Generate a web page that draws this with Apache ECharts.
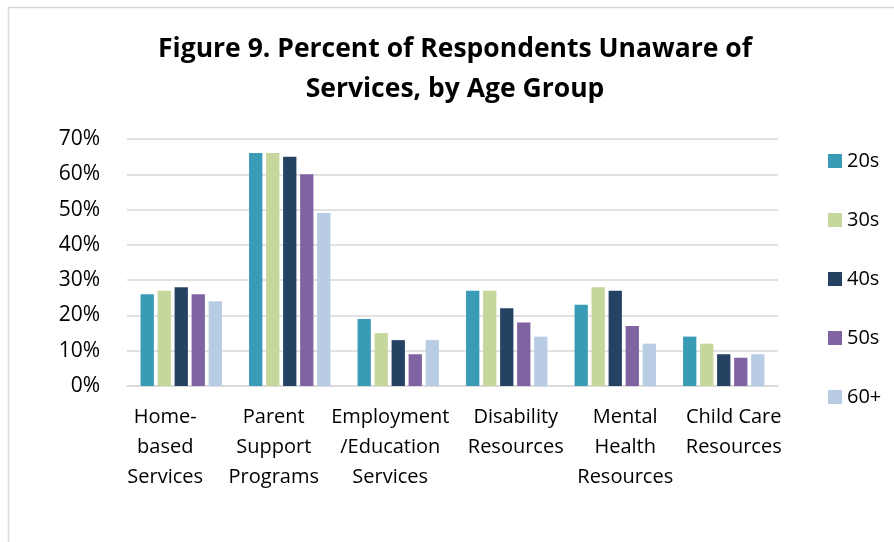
<!DOCTYPE html>
<html>
<head>
<meta charset="utf-8">
<script src="https://cdn.jsdelivr.net/npm/echarts@6/dist/echarts.min.js"></script>
<style>
  html, body { margin: 0; padding: 0; background: #ffffff; }
  #chart { width: 894px; height: 542px; }
</style>
</head>
<body>
<div id="chart"></div>
<script>
// Service categories (wrapped as in the printed report)
const categories = [
  'Home-\nbased\nServices',
  'Parent\nSupport\nPrograms',
  'Employment\n/Education\nServices',
  'Disability\nResources',
  'Mental\nHealth\nResources',
  'Child Care\nResources'
];

// Percent of respondents unaware of each service, per age group
const ageGroups = ['20s', '30s', '40s', '50s', '60+'];
const values20s = [26, 66, 19, 27, 23, 14];
const values30s = [27, 66, 15, 27, 28, 12];
const values40s = [28, 65, 13, 22, 27, 9];
const values50s = [26, 60, 9, 18, 17, 8];
const values60p = [24, 49, 13, 14, 12, 9];

const yTicks = { min: 0, max: 70, interval: 10 };

const seriesValues = [values20s, values30s, values40s, values50s, values60p];
const colors = ['#3A9BB6', '#C5D79C', '#264263', '#8064A2', '#B8CCE4'];

// horizontal nudge of each category label (px, positive = right)
const labelShift = [-16, -16, -8, 9, 10, 10];

const font = '"Open Sans", "DejaVu Sans", sans-serif';

const chart = echarts.init(document.getElementById('chart'), null, { renderer: 'canvas' });

chart.setOption({
  backgroundColor: '#ffffff',
  animation: false,
  textStyle: { fontFamily: font },
  title: {
    text: 'Figure 9. Percent of Respondents Unaware of\nServices, by Age Group',
    left: 450,
    textAlign: 'center',
    top: 24,
    textStyle: {
      fontFamily: font,
      fontSize: 26.5,
      fontWeight: 'bold',
      color: '#000000',
      lineHeight: 40
    }
  },
  legend: {
    orient: 'vertical',
    left: 823,
    top: 146,
    itemWidth: 14,
    itemHeight: 14,
    itemGap: 39,
    icon: 'rect',
    data: ageGroups,
    textStyle: { fontFamily: font, fontSize: 20, color: '#000000' }
  },
  grid: { left: 127, right: 116, top: 139, bottom: 156 },
  xAxis: {
    type: 'category',
    data: categories.map((c, i) => ({
      value: c,
      textStyle: {
        padding: labelShift[i] >= 0 ? [0, 0, 0, 2 * labelShift[i]] : [0, -2 * labelShift[i], 0, 0]
      }
    })),
    axisTick: { show: false },
    axisLine: { show: true, lineStyle: { color: '#d9d9d9', width: 1.5 } },
    axisLabel: {
      interval: 0,
      margin: 16,
      fontFamily: font,
      fontSize: 20,
      lineHeight: 30,
      color: '#000000'
    }
  },
  yAxis: {
    type: 'value',
    min: yTicks.min,
    max: yTicks.max,
    interval: yTicks.interval,
    axisLine: { show: false },
    axisTick: { show: false },
    splitLine: { lineStyle: { color: '#d9d9d9', width: 1.5 } },
    axisLabel: {
      margin: 27,
      fontFamily: font,
      fontSize: 21,
      color: '#000000',
      formatter: '{value}%'
    }
  },
  series: ageGroups.map((name, i) => ({
    name: name,
    type: 'bar',
    data: seriesValues[i],
    barGap: '28%',
    barCategoryGap: '25%',
    itemStyle: { color: colors[i] }
  })),
  graphic: [
    { type: 'line', shape: { x1: 8, y1: 7.5, x2: 894, y2: 7.5 }, style: { stroke: '#d9d9d9', lineWidth: 1.5 }, silent: true },
    { type: 'line', shape: { x1: 8.5, y1: 7, x2: 8.5, y2: 542 }, style: { stroke: '#d9d9d9', lineWidth: 1.5 }, silent: true }
  ]
});
</script>
</body>
</html>
